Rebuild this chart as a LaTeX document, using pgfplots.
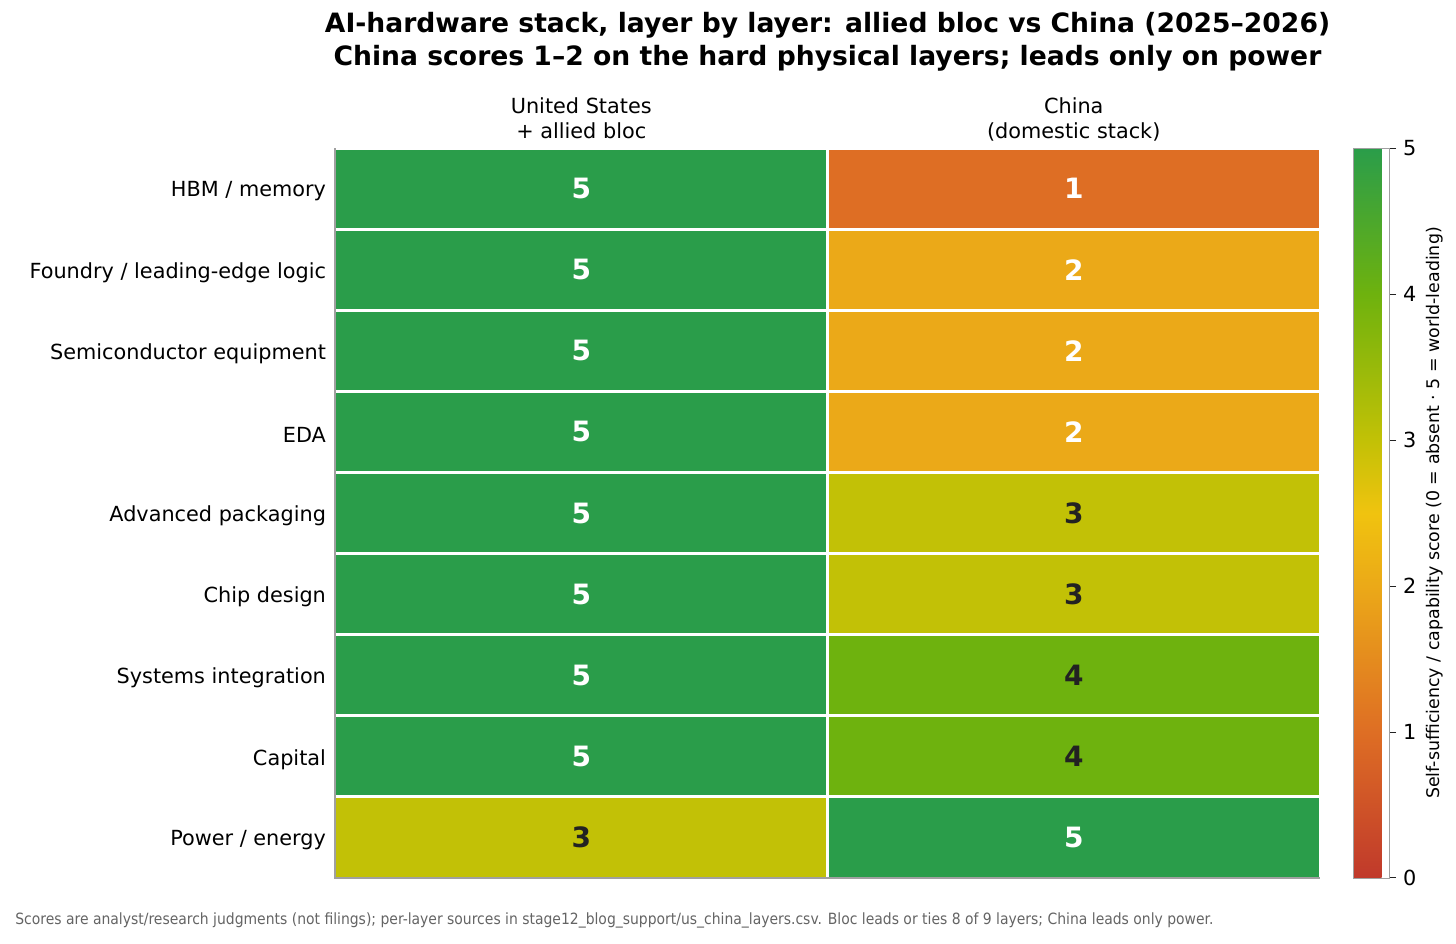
\documentclass[border=0pt]{standalone}
\usepackage{fontspec}
\setmainfont{DejaVu Sans}
\newfontfamily\condfont{DejaVu Sans Condensed}
\usepackage{pgfplots}
\pgfplotsset{compat=1.18}
\definecolor{darktxt}{HTML}{222222}
\definecolor{spine}{HTML}{A0A0A0}
\begin{document}
\begin{tikzpicture}
\useasboundingbox (-167.5pt,-32.5pt) rectangle (560.5pt,439pt);
\begin{axis}[
  scale only axis,
  clip mode=individual,
  width=492.5pt, height=365pt,
  xmin=-0.5, xmax=1.5, ymin=-0.5, ymax=8.5,
  y dir=reverse,
  axis line style={draw=none},
  xtick={0,1},
  xticklabels={{United States\\+ allied bloc\vphantom{()}},{China\\(domestic stack)}},
  xticklabel pos=upper,
  xticklabel style={align=center, font=\fontsize{10.4pt}{12.6pt}\selectfont, yshift=0pt},
  ytick={0,...,8},
  yticklabels={HBM / memory, Foundry / leading-edge logic, Semiconductor equipment, EDA, Advanced packaging, Chip design, Systems integration, Capital, Power / energy},
  yticklabel style={font=\fontsize{10.4pt}{12.6pt}\selectfont, xshift=-1pt, yshift=-1.5pt},
  major tick length=0pt,
  point meta min=0, point meta max=5,
  colormap={rg}{rgb255(0)=(192,57,43) rgb255(1)=(222,110,36) rgb255(2)=(235,169,24) rgb255(2.5)=(240,195,15) rgb255(3)=(194,193,6) rgb255(4)=(110,178,14) rgb255(5)=(42,157,74)},
  colorbar,
  colorbar style={
    at={(parent axis.north east)}, anchor=north west, xshift=8pt,
    width=18pt,
    ytick={0,1,2,3,4,5},
    ytick pos=right,
    yticklabel pos=right,
    yticklabel style={font=\fontsize{10.4pt}{12pt}\selectfont},
    /pgf/number format/assume math mode=true,
    major tick length=3.5pt,
    tick style={draw=darktxt, line width=0.5pt},
    tick align=outside,
    axis line style={draw=spine},
    ylabel={Self-sufficiency / capability score (0 = absent · 5 = world-leading)},
    ylabel style={font=\fontsize{8.7pt}{10pt}\selectfont, yshift=2pt},
  },
]
\addplot[matrix plot*, mesh/cols=2, mesh/rows=9, point meta=explicit, draw=white, line width=1.5pt]
  table[meta=c] {
x y c
0 0 5
1 0 1
0 1 5
1 1 2
0 2 5
1 2 2
0 3 5
1 3 2
0 4 5
1 4 3
0 5 5
1 5 3
0 6 5
1 6 4
0 7 5
1 7 4
0 8 3
1 8 5
};
% white labels
\addplot[only marks, mark=none, point meta=explicit symbolic,
  nodes near coords={\pgfplotspointmeta}, nodes near coords align=center,
  every node near coord/.style={font=\bfseries\fontsize{14pt}{14pt}\selectfont, text=white, anchor=center}]
  table[meta=c] {
x y c
0 0 5
1 0 1
0 1 5
1 1 2
0 2 5
1 2 2
0 3 5
1 3 2
0 4 5
0 5 5
0 6 5
0 7 5
1 8 5
};
% dark labels
\addplot[only marks, mark=none, point meta=explicit symbolic,
  nodes near coords={\pgfplotspointmeta}, nodes near coords align=center,
  every node near coord/.style={font=\bfseries\fontsize{14pt}{14pt}\selectfont, text=darktxt, anchor=center}]
  table[meta=c] {
x y c
1 4 3
1 5 3
1 6 4
1 7 4
0 8 3
};
\draw[spine, line width=0.8pt] (rel axis cs:0,1) -- (rel axis cs:0,0) -- (rel axis cs:1,0);
\node[anchor=south, align=center, font=\bfseries\fontsize{13.3pt}{16.5pt}\selectfont, yshift=35pt]
  at (rel axis cs:0.5,1) {AI-hardware stack, layer by layer: allied bloc vs China (2025–2026)\\China scores 1–2 on the hard physical layers; leads only on power};
\node[anchor=west, inner sep=0pt, text=darktxt!70, font=\condfont\fontsize{7.75pt}{9pt}\selectfont, xshift=-160pt, yshift=-21pt]
  at (rel axis cs:0,0) {Scores are analyst/research judgments (not filings); per-layer sources in stage12\_blog\_support/us\_china\_layers.csv. Bloc leads or ties 8 of 9 layers; China leads only power.};
\end{axis}
\end{tikzpicture}
\end{document}
